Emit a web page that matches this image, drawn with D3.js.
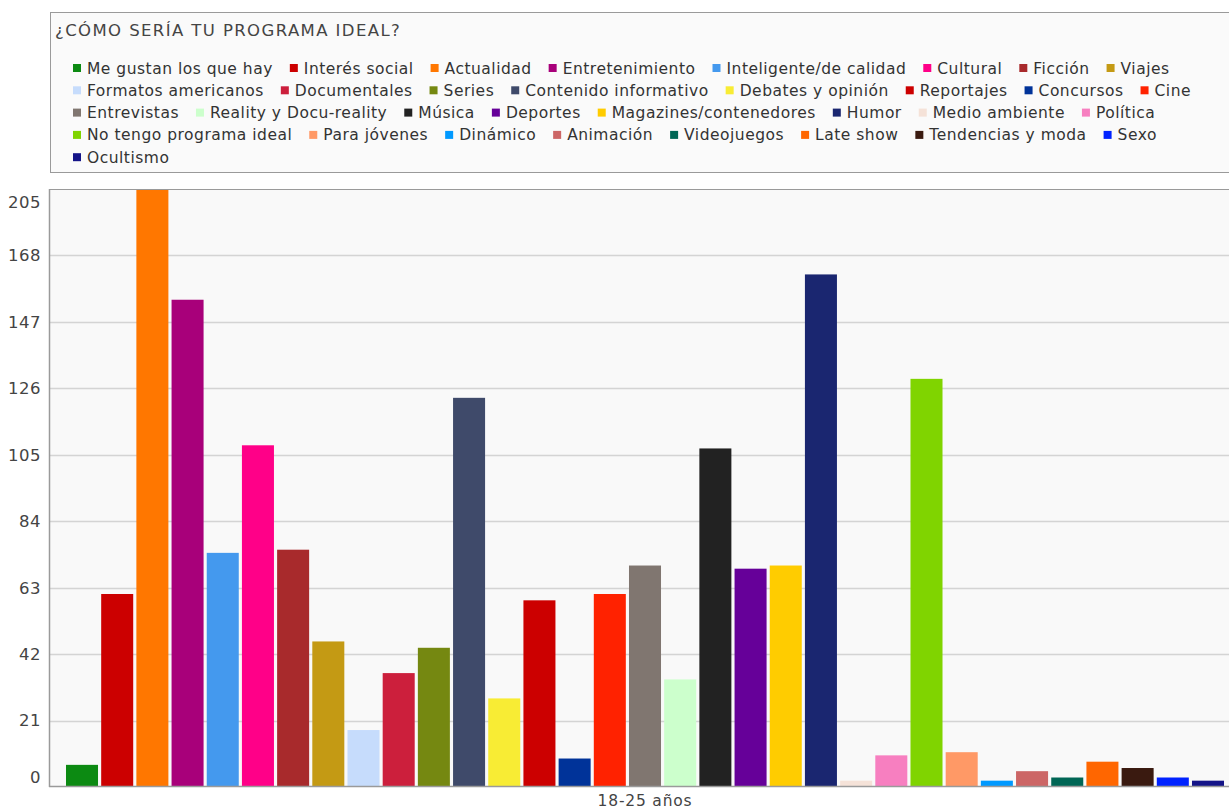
<!DOCTYPE html>
<html>
<head>
<meta charset="utf-8">
<script src="https://cdn.jsdelivr.net/npm/d3@7"></script>
<style>
body { margin: 0; background: #fff; }
text { font-family: Verdana, "DejaVu Sans", sans-serif; }
</style>
</head>
<body>
<script>
// data
var categories = ['Me gustan los que hay', 'Interés social', 'Actualidad', 'Entretenimiento',
	'Inteligente/de calidad', 'Cultural', 'Ficción', 'Viajes',
	'Formatos americanos', 'Documentales', 'Series', 'Contenido informativo',
	'Debates y opinión', 'Reportajes', 'Concursos', 'Cine',
	'Entrevistas', 'Reality y Docu-reality', 'Música', 'Deportes',
	'Magazines/contenedores', 'Humor', 'Medio ambiente', 'Política',
	'No tengo programa ideal', 'Para jóvenes', 'Dinámico', 'Animación',
	'Videojuegos', 'Late show', 'Tendencias y moda', 'Sexo', 'Ocultismo'];

var values = [7, 61, 205, 154, 74, 108, 75, 46,
	18, 36, 44, 123, 28, 59, 9, 61,
	70, 34, 107, 69, 70, 162, 2, 10,
	129, 11, 2, 5, 3, 8, 6, 3, 2];

var colors = ['#0c8a12', '#cc0000', '#ff7700', '#a8007a', '#4499ee', '#ff0088', '#a82a2c', '#c49a14',
	'#c6dcfc', '#cc1f3c', '#758811', '#3f4a6a', '#f8ec34', '#cc0000', '#003399', '#ff2200',
	'#807670', '#ccffcc', '#222222', '#660099', '#ffcc00', '#1a2670', '#f5e2d8', '#f77fc0',
	'#80d400', '#ff9966', '#0099ff', '#cc6666', '#006655', '#ff6600', '#3a1a10', '#0022ff', '#141488'];

var yTicks = [0, 21, 42, 63, 84, 105, 126, 147, 168];
var yTop = 189;        // value at top edge of plot
var yTopLabel = 205;   // label shown at top edge
var xLabel = '18-25 años';
var title = '¿CÓMO SERÍA TU PROGRAMA IDEAL?';

// sizes
var W = 1229, H = 811;
var plot = { left: 49, top: 189, bottom: 787, right: 1241 };

var svg = d3.select('body').append('svg')
	.attr('width', W)
	.attr('height', H);

// legend box
svg.append('rect')
	.attr('x', 50.5).attr('y', 12.5)
	.attr('width', 1240).attr('height', 160)
	.style('fill', '#fafafa')
	.style('stroke', '#9a9a9a');

svg.append('text')
	.attr('x', 55).attr('y', 36)
	.style('font-size', '16.5px')
	.style('letter-spacing', '1.4px')
	.style('fill', '#444')
	.text(title);

var legend = svg.append('g').attr('class', 'legend');
var lx = 73, ly = 68, rowH = 22.3, maxX = 1222;
categories.forEach(function(c, i) {
	var g = legend.append('g');
	var t = g.append('text')
		.attr('x', 14).attr('y', 0)
		.attr('dy', '.36em')
		.style('font-size', '15.5px')
		.style('letter-spacing', '0.5px')
		.style('fill', '#333')
		.text(c);
	var w = 14 + t.node().getComputedTextLength();
	if (lx + w > maxX) {
		lx = 73;
		ly += rowH;
	}
	g.attr('transform', 'translate(' + lx + ',' + ly + ')');
	g.append('rect')
		.attr('x', 0).attr('y', -4)
		.attr('width', 8).attr('height', 8)
		.style('fill', colors[i]);
	lx += w + 17;
});

// scales
var x = d3.scaleBand()
	.domain(categories)
	.range([plot.left, plot.right])
	.paddingInner(0.09)
	.paddingOuter(0.483);

var y = d3.scaleLinear()
	.domain([0, yTop])
	.range([plot.bottom, plot.top]);

// plot background
svg.append('rect')
	.attr('x', plot.left).attr('y', plot.top)
	.attr('width', plot.right - plot.left)
	.attr('height', plot.bottom - plot.top)
	.style('fill', '#f9f9f9');

svg.append('clipPath').attr('id', 'clip')
	.append('rect')
	.attr('x', plot.left).attr('y', plot.top)
	.attr('width', plot.right - plot.left)
	.attr('height', plot.bottom - plot.top);

// gridlines
svg.append('g')
	.selectAll('line')
	.data(yTicks.filter(function(d) { return d > 0; }))
	.enter().append('line')
	.attr('x1', plot.left).attr('x2', plot.right)
	.attr('y1', function(d) { return Math.round(y(d)) + 0.5; })
	.attr('y2', function(d) { return Math.round(y(d)) + 0.5; })
	.style('stroke', '#d4d4d4')
	.style('stroke-width', 1.5);

// bars
svg.append('g')
	.attr('clip-path', 'url(#clip)')
	.selectAll('.bar')
	.data(values)
	.enter().append('rect')
	.attr('class', 'bar')
	.attr('x', function(d, i) { return x(categories[i]); })
	.attr('width', x.bandwidth())
	.attr('y', function(d) { return y(d); })
	.attr('height', function(d) { return y(0) - y(d); })
	.style('fill', function(d, i) { return colors[i]; });

// frame
svg.append('line')
	.attr('x1', plot.left).attr('x2', plot.right)
	.attr('y1', plot.top + 0.5).attr('y2', plot.top + 0.5)
	.style('stroke', '#9a9a9a');
svg.append('line')
	.attr('x1', plot.left + 0.5).attr('x2', plot.left + 0.5)
	.attr('y1', plot.top).attr('y2', plot.bottom)
	.style('stroke', '#9a9a9a')
	.style('stroke-width', 1.5);
svg.append('line')
	.attr('x1', plot.left).attr('x2', plot.right)
	.attr('y1', plot.bottom - 0.5).attr('y2', plot.bottom - 0.5)
	.style('stroke', '#9a9a9a')
	.style('stroke-width', 1.5);

// y labels
svg.append('g')
	.selectAll('text')
	.data(yTicks)
	.enter().append('text')
	.attr('x', 41)
	.attr('y', function(d) { return d === 0 ? y(d) - 10 : y(d); })
	.attr('dy', '.36em')
	.attr('text-anchor', 'end')
	.style('font-size', '16.5px')
	.style('letter-spacing', '0.5px')
	.style('fill', '#444')
	.text(function(d) { return d; });

svg.append('text')
	.attr('x', 41)
	.attr('y', y(yTop) + 13)
	.attr('dy', '.36em')
	.attr('text-anchor', 'end')
	.style('font-size', '16.5px')
	.style('letter-spacing', '0.5px')
	.style('fill', '#444')
	.text(yTopLabel);

// x label
svg.append('text')
	.attr('x', (plot.left + plot.right) / 2)
	.attr('y', 800)
	.attr('dy', '.36em')
	.attr('text-anchor', 'middle')
	.style('font-size', '15.5px')
	.style('letter-spacing', '0.8px')
	.style('fill', '#444')
	.text(xLabel);
</script>
</body>
</html>
